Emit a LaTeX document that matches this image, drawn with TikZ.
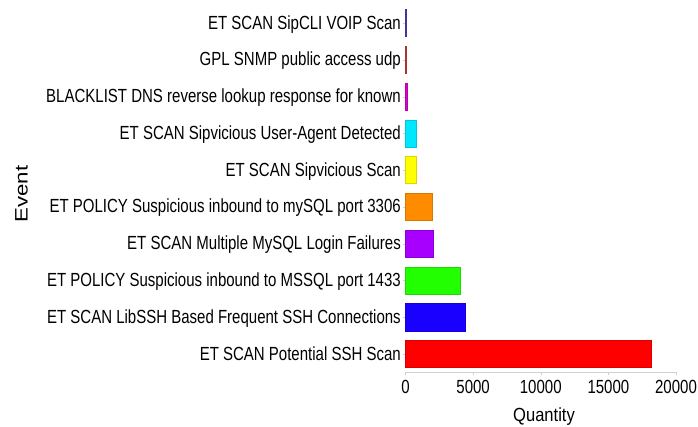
\documentclass[tikz,border=0pt]{standalone}
\usepackage{fontspec}
\setmainfont{Liberation Sans}
\usepackage{graphicx}
\definecolor{barnavy}{HTML}{4A40B0}
\definecolor{bardred}{HTML}{C83C3C}
\definecolor{barmag}{HTML}{DD00CC}
\definecolor{barcyan}{HTML}{00E8FF}
\definecolor{baryel}{HTML}{FFFF00}
\definecolor{barorg}{HTML}{FF8C00}
\definecolor{barpur}{HTML}{A800FF}
\definecolor{bargrn}{HTML}{22FF00}
\definecolor{barblu}{HTML}{1A00FF}
\definecolor{barred}{HTML}{FF0000}
\definecolor{axgray}{HTML}{D0D0D0}
\newcommand{\sq}[1]{\scalebox{0.79}[1]{#1}}

\begin{document}
\begin{tikzpicture}[x=1pt,y=-1pt,
    lab/.style={anchor=base east,inner sep=0pt,font=\fontsize{19}{20}\selectfont},
    tick/.style={anchor=base,inner sep=0pt,font=\fontsize{19}{20}\selectfont},
    bar/.style={fill=#1,draw=#1!85!black,line width=0.5pt}]
    \useasboundingbox (0,0) rectangle (698,427);
    % bars, from top to bottom (values in thousands)
    \foreach \v/\c/\t [count=\i] in {
        0.06/barnavy/ET SCAN SipCLI VOIP Scan,
        0.09/bardred/GPL SNMP public access udp,
        0.14/barmag/BLACKLIST DNS reverse lookup response for known,
        0.785/barcyan/ET SCAN Sipvicious User-Agent Detected,
        0.785/baryel/ET SCAN Sipvicious Scan,
        1.97/barorg/ET POLICY Suspicious inbound to mySQL port 3306,
        2.075/barpur/ET SCAN Multiple MySQL Login Failures,
        4.075/bargrn/ET POLICY Suspicious inbound to MSSQL port 1433,
        4.39/barblu/ET SCAN LibSSH Based Frequent SSH Connections,
        18.15/barred/ET SCAN Potential SSH Scan}
    {
        \pgfmathsetmacro{\yc}{23.25+36.75*(\i-1)}
        \draw[bar=\c] (405.5,\yc-13.5) rectangle (405.5+\v*13.525,\yc+13.5);
        \draw[axgray] (402.5,\yc) -- (405,\yc);
        \node[lab] (ev\i) at (401,\yc+6) {\sq{\t}};
    }
    % x axis
    \draw[axgray] (405.5,372) -- (676,372);
    \foreach \q/\s in {0/0,5/5000,10/10000,15/15000,20/20000}
    {
        \draw[axgray] (405.5+\q*13.525,372) -- (405.5+\q*13.525,375);
        \node[tick] (q\q) at (405.5+\q*13.525,393) {\sq{\s}};
    }
    \node[tick] (xlabel) at (544,421.5) {\scalebox{0.87}[1]{Quantity}};
    \node[tick,rotate=90] (ylabel) at (27.5,194) {\scalebox{1.17}[0.95]{Event}};
\end{tikzpicture}
\end{document}
